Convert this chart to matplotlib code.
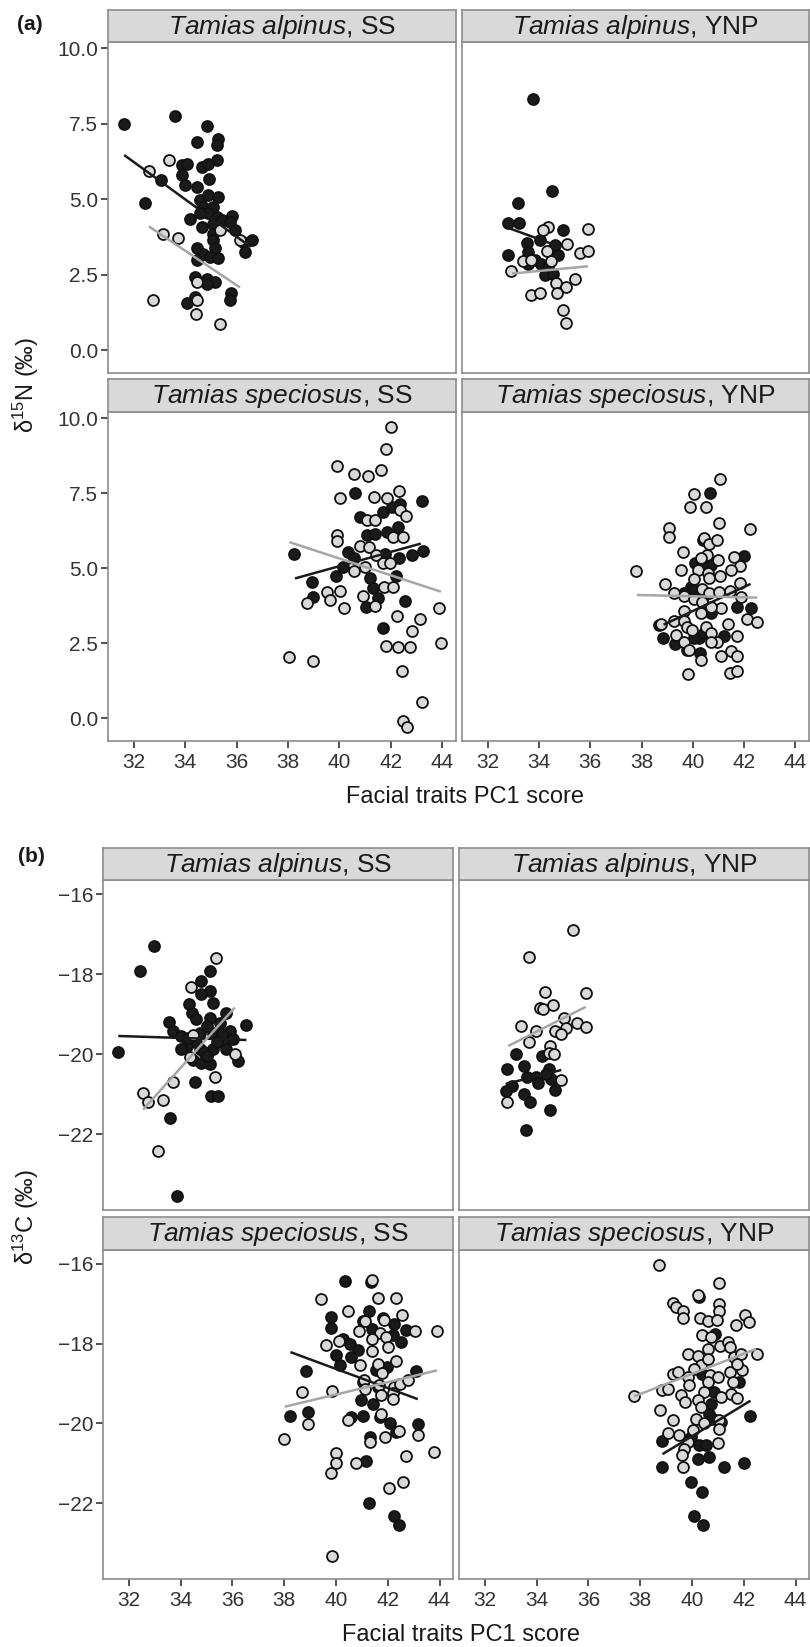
import numpy as np
import matplotlib.pyplot as plt

plt.rcParams['font.family'] = ['Liberation Sans', 'DejaVu Sans']
plt.rcParams['mathtext.fontset'] = 'custom'
plt.rcParams['mathtext.rm'] = 'Liberation Sans'
plt.rcParams['mathtext.it'] = 'Liberation Sans:italic'

# ---- axes ticks ----
pc1_ticks = [32, 34, 36, 38, 40, 42, 44]
n15_ticks = [0.0, 2.5, 5.0, 7.5, 10.0]
n15_tick_labels = ['0.0', '2.5', '5.0', '7.5', '10.0']
c13_ticks = [-22, -20, -18, -16]
c13_tick_labels = ['\u221222', '\u221220', '\u221218', '\u221216']

# ---- (a) d15N, T. alpinus, SS ----
n15_alp_ss_dark_x = [31.62, 33.6, 34.83, 34.47, 35.29, 35.22, 35.25, 33.86, 34.05, 34.64, 34.9,
                     33.86, 33.99, 34.92, 33.04, 32.43, 34.47, 34.57, 34.9, 35.29, 34.7, 35.09,
                     34.9, 35.22, 34.57, 34.18, 34.64, 35.09, 35.42, 35.81, 35.74, 35.94, 35.09,
                     35.09, 35.16, 34.44, 34.7, 34.96, 35.29, 34.44, 36.26, 36.32, 36.58, 34.83,
                     35.16, 34.38, 34.83, 34.05, 34.38, 35.77, 35.74]
n15_alp_ss_dark_y = [7.5, 7.75, 7.42, 6.9, 6.98, 6.79, 6.29, 6.13, 6.18, 6.07, 6.18,
                     5.79, 5.46, 5.66, 5.65, 4.86, 5.39, 4.97, 5.13, 5.08, 4.75, 4.75,
                     4.53, 4.42, 4.53, 4.34, 4.08, 4.19, 4.3, 4.44, 4.25, 3.97, 3.86,
                     3.64, 3.37, 3.37, 3.2, 3.09, 3.04, 2.98, 3.59, 3.26, 3.66, 2.37,
                     2.26, 2.43, 2.21, 1.55, 1.77, 1.88, 1.66]
n15_alp_ss_light_x = [32.6, 33.36, 33.14, 33.73, 32.75, 34.47, 34.44, 34.42, 35.35, 35.35, 36.13]
n15_alp_ss_light_y = [5.94, 6.29, 3.86, 3.73, 1.68, 2.26, 1.68, 1.19, 0.88, 3.97, 3.66]
n15_alp_ss_fit_dark = ([31.62, 36.55], [6.46, 3.42])
n15_alp_ss_fit_light = ([32.58, 36.13], [4.1, 2.08])

# ---- (a) d15N, T. alpinus, YNP ----
n15_alp_ynp_dark_x = [33.77, 34.52, 33.16, 32.79, 33.22, 34.94, 33.51, 34.03, 34.61, 32.79,
                      33.57, 33.83, 34.09, 34.74, 34.35, 34.22, 34.55, 33.57]
n15_alp_ynp_dark_y = [8.3, 5.26, 4.89, 4.22, 4.22, 3.97, 3.55, 3.64, 3.48, 3.15,
                      3.26, 2.98, 2.87, 3.15, 2.76, 2.48, 2.54, 2.87]
n15_alp_ynp_light_x = [34.35, 34.16, 35.91, 35.1, 35.58, 35.91, 34.29, 33.38, 33.7, 34.48,
                       32.92, 34.68, 35.06, 35.42, 33.7, 34.03, 34.71, 34.94, 35.04]
n15_alp_ynp_light_y = [4.08, 3.97, 4.0, 3.53, 3.23, 3.29, 3.29, 2.95, 3.0, 2.95,
                       2.63, 2.23, 2.1, 2.35, 1.82, 1.9, 1.88, 1.35, 0.91]
n15_alp_ynp_fit_dark = ([32.86, 34.48], [4.03, 3.53])
n15_alp_ynp_fit_light = ([32.95, 35.91], [2.54, 2.78])

# ---- (a) d15N, T. speciosus, SS ----
n15_spe_ss_dark_x = [40.61, 43.21, 40.81, 41.69, 42.04, 42.36, 41.06, 41.39, 41.84, 42.3,
                     38.23, 40.35, 40.55, 41.79, 42.34, 42.82, 43.25, 40.14, 39.86, 38.92,
                     41.19, 42.19, 41.32, 38.99, 41.51, 41.03, 42.55, 41.69]
n15_spe_ss_dark_y = [7.5, 7.24, 6.71, 6.87, 7.04, 7.15, 6.1, 6.15, 6.21, 6.38,
                     5.49, 5.55, 5.33, 5.49, 5.35, 5.44, 5.57, 5.03, 4.74, 4.55,
                     4.66, 4.74, 4.33, 4.03, 4.02, 3.7, 3.92, 3.01]
n15_spe_ss_light_x = [42.0, 41.82, 39.92, 40.55, 41.13, 41.62, 40.03, 41.36, 41.87, 42.34,
                      42.36, 42.6, 41.06, 41.39, 39.9, 39.9, 42.1, 42.49, 40.81, 41.17,
                      41.43, 41.69, 41.97, 40.55, 41.0, 41.73, 42.1, 40.03, 39.51, 39.64,
                      38.73, 40.19, 40.9, 41.4, 42.26, 43.12, 42.82, 41.82, 42.27, 42.75,
                      43.86, 43.95, 38.04, 38.96, 42.43, 43.21, 42.49, 42.65]
n15_spe_ss_light_y = [9.69, 8.97, 8.39, 8.12, 8.07, 8.28, 7.35, 7.37, 7.35, 7.56,
                      6.93, 6.73, 6.62, 6.62, 6.1, 5.91, 6.04, 6.04, 5.73, 5.71,
                      5.44, 5.19, 5.19, 4.91, 5.05, 4.39, 4.39, 4.25, 4.2, 3.94,
                      3.83, 3.69, 4.06, 3.75, 3.41, 3.3, 2.9, 2.42, 2.38, 2.38,
                      3.68, 2.51, 2.03, 1.9, 1.59, 0.54, -0.09, -0.28]
n15_spe_ss_fit_dark = ([38.27, 43.17], [4.66, 5.82])
n15_spe_ss_fit_light = ([38.05, 43.95], [5.87, 4.22])

# ---- (a) d15N, T. speciosus, YNP ----
n15_spe_ynp_dark_x = [40.66, 40.42, 41.99, 40.09, 40.7, 40.38, 39.92, 40.05, 39.64, 40.38, 40.7,
                      41.74, 42.26, 38.84, 39.31, 38.69, 40.25, 41.22, 40.44, 40.05, 39.79, 40.29]
n15_spe_ynp_dark_y = [7.5, 5.93, 5.4, 5.18, 5.1, 5.14, 4.39, 4.28, 4.17, 3.94, 3.5,
                      3.72, 3.67, 2.67, 2.49, 3.12, 2.67, 2.73, 2.84, 2.67, 2.29, 2.18]
n15_spe_ynp_light_x = [41.05, 40.03, 39.91, 40.53, 41.03, 39.08, 39.08, 42.23, 40.44, 40.64,
                       40.96, 39.62, 40.57, 40.31, 40.99, 41.61, 41.84, 41.48, 39.53, 40.21,
                       40.61, 41.05, 40.65, 40.06, 37.78, 38.91, 41.84, 39.27, 39.66, 40.36,
                       40.64, 41.03, 41.45, 41.87, 40.05, 40.38, 41.09, 39.64, 40.31, 40.71,
                       42.1, 42.49, 41.38, 38.75, 39.27, 39.66, 39.79, 39.99, 40.51, 40.71,
                       40.96, 39.35, 39.66, 39.86, 40.71, 41.71, 40.31, 41.1, 41.51, 41.71,
                       39.83, 41.45, 41.71]
n15_spe_ynp_light_y = [7.96, 7.48, 7.04, 7.04, 6.49, 6.35, 6.04, 6.29, 5.99, 5.82,
                       5.93, 5.55, 5.44, 5.33, 5.29, 5.38, 5.07, 4.94, 4.94, 4.94,
                       4.85, 4.74, 4.66, 4.64, 4.91, 4.48, 4.52, 4.19, 4.06, 4.3,
                       4.17, 4.22, 4.25, 4.03, 3.97, 3.89, 3.67, 3.59, 3.5, 3.72,
                       3.3, 3.22, 3.15, 3.15, 3.23, 3.23, 3.06, 2.95, 3.06, 2.84,
                       2.56, 2.78, 2.56, 2.29, 2.56, 2.73, 1.96, 2.09, 2.23, 2.07,
                       1.49, 1.51, 1.57]
n15_spe_ynp_fit_dark = ([38.86, 42.26], [3.12, 4.48])
n15_spe_ynp_fit_light = ([37.82, 42.52], [4.11, 4.02])

# ---- (b) d13C, T. alpinus, SS ----
c13_alp_ss_dark_x = [32.98, 32.42, 31.59, 33.58, 33.84, 34.8, 35.13, 35.13, 34.8, 35.25,
                     34.33, 34.42, 35.13, 35.77, 33.56, 36.54, 35.9, 35.77, 33.71, 34.03,
                     34.74, 35.25, 34.23, 34.74, 35.25, 34.03, 34.48, 34.8, 35.13, 35.77,
                     36.22, 34.55, 35.19, 35.45, 35.0, 35.51, 34.61, 36.03,
                     34.6, 34.9, 35.4, 34.3, 35.0, 35.6]
c13_alp_ss_dark_y = [-17.29, -17.92, -19.94, -21.61, -23.54, -18.17, -17.92, -18.42, -18.51, -18.72,
                     -18.76, -18.97, -19.09, -18.97, -19.19, -19.28, -19.43, -19.68, -19.43, -19.55,
                     -19.47, -19.47, -19.8, -19.88, -19.88, -19.88, -20.14, -20.22, -20.26, -19.88,
                     -20.18, -20.7, -21.04, -21.05, -19.3, -19.22, -19.13, -19.63,
                     -19.7, -19.95, -19.7, -19.6, -20.05, -19.5]
c13_alp_ss_light_x = [35.38, 34.39, 34.46, 34.35, 33.71, 32.55, 32.75, 33.32, 33.13, 35.32, 36.09]
c13_alp_ss_light_y = [-17.61, -18.32, -19.53, -20.07, -20.7, -20.97, -21.2, -21.14, -22.43, -20.57, -20.01]
c13_alp_ss_fit_dark = ([31.59, 36.54], [-19.55, -19.65])
c13_alp_ss_fit_light = ([32.55, 36.09], [-21.39, -18.84])

# ---- (b) d13C, T. alpinus, YNP ----
c13_alp_ynp_dark_x = [33.19, 33.51, 32.84, 34.22, 33.64, 33.96, 34.48, 34.55, 34.35, 33.06,
                      32.8, 33.51, 33.74, 34.06, 34.71, 34.52, 33.57]
c13_alp_ynp_dark_y = [-19.99, -20.29, -20.37, -20.04, -20.58, -20.57, -20.37, -20.62, -20.51, -20.8,
                      -20.93, -21.01, -21.2, -20.72, -20.91, -21.41, -21.89]
c13_alp_ynp_light_x = [35.41, 33.7, 34.32, 35.9, 34.13, 34.26, 34.65, 35.06, 33.38, 33.96,
                       34.7, 35.12, 34.95, 35.57, 35.9, 33.7, 34.52, 34.48, 34.67, 34.95, 32.86]
c13_alp_ynp_light_y = [-16.9, -17.57, -18.44, -18.48, -18.84, -18.88, -18.78, -19.09, -19.3, -19.43,
                       -19.43, -19.34, -19.51, -19.23, -19.32, -19.7, -19.8, -19.97, -20.01, -20.65, -21.2]
c13_alp_ynp_fit_dark = ([32.8, 34.95], [-20.75, -20.4])
c13_alp_ynp_fit_light = ([32.9, 35.9], [-19.8, -18.82])

# ---- (b) d13C, T. speciosus, SS ----
c13_spe_ss_dark_x = [40.33, 41.36, 39.82, 39.82, 41.27, 41.04, 41.4, 41.81, 42.26, 42.71,
                     40.27, 40.53, 40.85, 39.99, 40.59, 40.14, 42.2, 42.52, 38.86, 41.53,
                     41.97, 43.1, 41.04, 41.62, 40.98, 41.43, 38.24, 38.92, 41.04, 41.69,
                     40.59, 42.07, 42.33, 43.16, 41.3, 41.17, 41.27, 42.26, 42.43]
c13_spe_ss_dark_y = [-16.43, -16.46, -17.33, -17.61, -17.17, -17.42, -17.63, -17.35, -17.5, -17.65,
                     -17.88, -18.0, -18.17, -18.29, -18.33, -18.54, -17.79, -17.96, -18.69, -18.67,
                     -18.58, -18.69, -18.96, -19.08, -19.42, -19.52, -19.82, -19.72, -19.82, -19.83,
                     -19.83, -19.98, -20.21, -20.02, -20.35, -20.93, -22.0, -22.32, -22.54]
c13_spe_ss_light_x = [41.39, 39.43, 41.62, 42.33, 40.46, 42.55, 41.13, 41.84, 40.88, 41.69,
                      41.93, 41.4, 43.07, 43.91, 40.12, 39.6, 42.0, 41.4, 42.3, 40.94,
                      41.62, 41.79, 41.07, 41.11, 41.66, 42.26, 42.46, 42.78, 41.75, 42.2,
                      42.2, 38.67, 39.85, 41.75, 40.46, 38.93, 37.98, 41.88, 42.43, 43.16,
                      41.3, 39.99, 39.99, 39.82, 40.78, 42.71, 43.78, 42.59, 42.05, 39.85]
c13_spe_ss_light_y = [-16.39, -16.89, -16.86, -16.85, -17.19, -17.27, -17.42, -17.4, -17.69, -17.73,
                      -17.83, -17.88, -17.67, -17.67, -17.93, -18.04, -18.07, -18.18, -18.44, -18.54,
                      -18.5, -18.73, -18.9, -19.13, -19.03, -19.08, -19.02, -18.92, -19.28, -19.23,
                      -19.38, -19.21, -19.18, -19.75, -19.92, -20.02, -20.39, -20.33, -20.18, -20.28,
                      -20.46, -20.73, -20.98, -21.25, -20.98, -20.82, -20.72, -21.47, -21.61, -23.32]
c13_spe_ss_fit_dark = ([38.24, 43.16], [-18.21, -19.39])
c13_spe_ss_fit_light = ([38.02, 43.9], [-19.58, -18.67])

# ---- (b) d13C, T. speciosus, YNP ----
c13_spe_ynp_dark_x = [40.28, 40.89, 40.37, 40.74, 40.86, 40.74, 40.67, 40.8, 41.12, 41.83,
                      42.26, 38.86, 40.28, 40.54, 39.96, 40.22, 40.67, 38.86, 41.23, 42.0,
                      39.96, 40.37, 40.06, 40.41]
c13_spe_ynp_dark_y = [-16.82, -17.75, -18.75, -18.83, -19.21, -19.5, -19.75, -19.88, -19.96, -18.96,
                      -19.82, -20.43, -20.54, -20.54, -20.33, -20.88, -20.85, -21.08, -21.1, -20.98,
                      -21.46, -21.73, -22.32, -22.54]
c13_spe_ynp_light_x = [38.74, 41.03, 40.25, 39.25, 39.38, 39.64, 39.64, 41.06, 41.06, 40.32,
                       40.6, 40.96, 41.7, 42.05, 42.22, 40.37, 40.74, 41.1, 41.41, 41.45,
                       40.6, 39.83, 40.22, 41.64, 41.9, 42.52, 40.35, 40.09, 40.6, 41.45,
                       41.92, 41.74, 39.28, 39.45, 39.83, 40.71, 40.99, 39.9, 40.6, 41.57,
                       38.86, 39.06, 39.57, 40.48, 41.51, 41.74, 41.12, 37.77, 39.73, 40.22,
                       40.35, 38.77, 39.28, 40.15, 40.45, 41.06, 39.06, 39.51, 40.03, 41.06,
                       39.83, 40.99, 39.68, 39.6, 39.65]
c13_spe_ynp_light_y = [-16.02, -16.48, -16.78, -16.98, -17.07, -17.17, -17.35, -17.0, -17.19, -17.35,
                       -17.43, -17.4, -17.54, -17.27, -17.46, -17.79, -17.82, -18.06, -17.96, -18.08,
                       -18.12, -18.25, -18.32, -18.33, -18.25, -18.25, -18.54, -18.63, -18.38, -18.71,
                       -18.67, -18.5, -18.75, -18.71, -18.83, -18.79, -18.83, -19.04, -18.96, -18.96,
                       -19.17, -19.13, -19.29, -19.21, -19.27, -19.35, -19.33, -19.32, -19.46, -19.42,
                       -19.58, -19.65, -19.92, -19.9, -19.98, -19.92, -20.23, -20.29, -20.17, -20.13,
                       -20.46, -20.48, -20.65, -20.79, -21.08]
c13_spe_ynp_fit_dark = ([38.86, 42.26], [-20.77, -19.43])
c13_spe_ynp_fit_light = ([37.77, 42.48], [-19.32, -18.13])

# ---- figure ----
W, H = 810, 1647
fig = plt.figure(figsize=(W / 100, H / 100), dpi=100, facecolor='white')

BORDER = '#8c8c8c'
STRIP = '#d9d9d9'
DARK = '#1a1a1a'
LIGHT = '#d9d9d9'
GREYLINE = '#a6a6a6'


def box(l, t, r, b):
    return [l / W, 1 - b / H, (r - l) / W, (b - t) / H]


def panel(pos, strip_top, species, site, xlim, ylim, yticks, ylabels, show_x, show_y,
          dark_x, dark_y, light_x, light_y, fit_dark, fit_light):
    l, t, r, b = pos
    ax = fig.add_axes(box(l, t, r, b))
    ax.scatter(dark_x, dark_y, s=62, c=DARK, edgecolors='#111111', linewidths=1.3, zorder=2)
    ax.scatter(light_x, light_y, s=62, c=LIGHT, edgecolors='#111111', linewidths=1.3, zorder=2)
    ax.plot(fit_dark[0], fit_dark[1], color=DARK, lw=1.8, zorder=3, solid_capstyle='butt')
    ax.plot(fit_light[0], fit_light[1], color=GREYLINE, lw=1.8, zorder=3, solid_capstyle='butt')
    ax.set_xlim(*xlim)
    ax.set_ylim(*ylim)
    ax.set_xticks(pc1_ticks)
    ax.set_yticks(yticks)
    ax.set_yticklabels(ylabels)
    for s in ax.spines.values():
        s.set_color(BORDER)
        s.set_linewidth(1.2)
    ax.tick_params(axis='both', colors='#333333', width=1.2, length=5, labelsize=15,
                   labelcolor='#333333')
    ax.tick_params(axis='x', pad=4)
    ax.tick_params(axis='y', pad=2)
    if not show_x:
        ax.tick_params(axis='x', length=0, labelbottom=False)
    if not show_y:
        ax.tick_params(axis='y', length=0, labelleft=False)

    st = fig.add_axes(box(l, strip_top, r, t))
    st.set_facecolor(STRIP)
    st.set_xticks([])
    st.set_yticks([])
    for s in st.spines.values():
        s.set_color(BORDER)
        s.set_linewidth(1.2)
    st.text(0.5, 0.47, r'$\mathit{Tamias\ ' + species + '}$, ' + site,
            transform=st.transAxes, ha='center', va='center', fontsize=19, color='#1a1a1a')
    return ax


xlim_a = (30.99, 44.54)
ylim_a = (-0.75, 10.2)
xlim_b = (31.0, 44.52)
ylim_b = (-23.9, -15.65)

# (a)
panel((108, 42, 456, 373), 10, 'alpinus', 'SS', xlim_a, ylim_a, n15_ticks, n15_tick_labels, False, True,
      n15_alp_ss_dark_x, n15_alp_ss_dark_y, n15_alp_ss_light_x, n15_alp_ss_light_y,
      n15_alp_ss_fit_dark, n15_alp_ss_fit_light)
panel((462, 42, 809, 373), 10, 'alpinus', 'YNP', xlim_a, ylim_a, n15_ticks, n15_tick_labels, False, False,
      n15_alp_ynp_dark_x, n15_alp_ynp_dark_y, n15_alp_ynp_light_x, n15_alp_ynp_light_y,
      n15_alp_ynp_fit_dark, n15_alp_ynp_fit_light)
panel((108, 412, 456, 741), 379, 'speciosus', 'SS', xlim_a, ylim_a, n15_ticks, n15_tick_labels, True, True,
      n15_spe_ss_dark_x, n15_spe_ss_dark_y, n15_spe_ss_light_x, n15_spe_ss_light_y,
      n15_spe_ss_fit_dark, n15_spe_ss_fit_light)
panel((462, 412, 809, 741), 379, 'speciosus', 'YNP', xlim_a, ylim_a, n15_ticks, n15_tick_labels, True, False,
      n15_spe_ynp_dark_x, n15_spe_ynp_dark_y, n15_spe_ynp_light_x, n15_spe_ynp_light_y,
      n15_spe_ynp_fit_dark, n15_spe_ynp_fit_light)

# (b)
panel((103, 880, 453, 1210), 848, 'alpinus', 'SS', xlim_b, ylim_b, c13_ticks, c13_tick_labels, False, True,
      c13_alp_ss_dark_x, c13_alp_ss_dark_y, c13_alp_ss_light_x, c13_alp_ss_light_y,
      c13_alp_ss_fit_dark, c13_alp_ss_fit_light)
panel((459, 880, 809, 1210), 848, 'alpinus', 'YNP', xlim_b, ylim_b, c13_ticks, c13_tick_labels, False, False,
      c13_alp_ynp_dark_x, c13_alp_ynp_dark_y, c13_alp_ynp_light_x, c13_alp_ynp_light_y,
      c13_alp_ynp_fit_dark, c13_alp_ynp_fit_light)
panel((103, 1250, 453, 1579), 1217, 'speciosus', 'SS', xlim_b, ylim_b, c13_ticks, c13_tick_labels, True, True,
      c13_spe_ss_dark_x, c13_spe_ss_dark_y, c13_spe_ss_light_x, c13_spe_ss_light_y,
      c13_spe_ss_fit_dark, c13_spe_ss_fit_light)
panel((459, 1250, 809, 1579), 1217, 'speciosus', 'YNP', xlim_b, ylim_b, c13_ticks, c13_tick_labels, True, False,
      c13_spe_ynp_dark_x, c13_spe_ynp_dark_y, c13_spe_ynp_light_x, c13_spe_ynp_light_y,
      c13_spe_ynp_fit_dark, c13_spe_ynp_fit_light)

# labels
fig.text(30 / W, 1 - 25 / H, '(a)', ha='center', va='center', fontsize=15, fontweight='bold', color='#1a1a1a')
fig.text(31 / W, 1 - 857 / H, '(b)', ha='center', va='center', fontsize=15, fontweight='bold', color='#1a1a1a')
fig.text(465 / W, 1 - 797 / H, 'Facial traits PC1 score', ha='center', va='center', fontsize=17, color='#1a1a1a')
fig.text(461 / W, 1 - 1635 / H, 'Facial traits PC1 score', ha='center', va='center', fontsize=17, color='#1a1a1a')
fig.text(26 / W, 1 - 385 / H, '\u03b4$^{\\mathrm{15}}$N (\u2030)', ha='center', va='center', rotation=90,
         fontsize=17, color='#1a1a1a')
fig.text(26 / W, 1 - 1217 / H, '\u03b4$^{\\mathrm{13}}$C (\u2030)', ha='center', va='center', rotation=90,
         fontsize=17, color='#1a1a1a')

fig.savefig('out.png', dpi=100, facecolor='white')
